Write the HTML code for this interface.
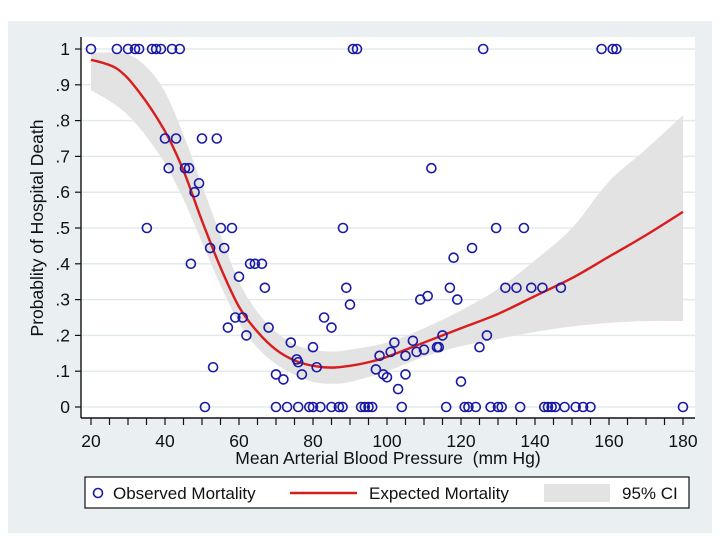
<!DOCTYPE html>
<html><head><meta charset="utf-8"><style>
body{margin:0;background:#fff;width:720px;height:540px;overflow:hidden}
svg{display:block;font-family:"Liberation Sans",sans-serif}
</style></head><body>
<svg id="chart" width="720" height="540">
<rect x="8" y="21" width="704" height="512" fill="#eaf0f2"/>
<rect x="81" y="37" width="614" height="381" fill="#fff"/>
<g id="grid"></g><g id="ci"></g><g id="line"></g><g id="pts"></g><g id="axes"></g>
<text x="388" y="464" font-size="17.5" text-anchor="middle" fill="#111" xml:space="preserve">Mean Arterial Blood Pressure&#160; (mm Hg)</text>
<text transform="translate(43,228) rotate(-90)" font-size="17.5" text-anchor="middle" fill="#111">Probablity of Hospital Death</text>
<g>
<rect x="85" y="477" width="604" height="31" fill="#fff" stroke="#111" stroke-width="1.2"/>
<circle cx="98" cy="493" r="4.5" fill="none" stroke="#1a1aa6" stroke-width="1.6"/>
<text x="113" y="499" font-size="17" fill="#111">Observed Mortality</text>
<line x1="290" y1="493" x2="357" y2="493" stroke="#d91c1c" stroke-width="2.4"/>
<text x="369" y="499" font-size="17" fill="#111">Expected Mortality</text>
<rect x="544" y="484" width="66" height="18" fill="#e3e3e3"/>
<text x="622" y="499" font-size="17" fill="#111">95% CI</text>
</g>
</svg>
<script>
const ptX=[20,27,30,31.9,33,36.5,37.6,38.9,41.9,44,90.8,91.9,126,158,161,162,
40,43,50,54,41,45.4,46.5,112,49.2,48,35.1,55.1,58.1,88.1,129.5,137,52.2,56,123,47,63,64.3,66.2,118,60,
67,89,117,132,135,139,142,147,109,111,119,90,59,61,83,57,68,85,62,115,127,74,102,107,80,113.5,125,
98,101,105,108,110,114,75.6,76,53,81,97,70,77,99,100,105,72,103,120,
50.8,70,73,76,79,80,82,85,87,88,93,94,95,96,104,116,121,122,124,128,130,131,136,142.5,143.5,144.5,145.5,148,151,153,155,180];
const ptY=[1,1,1,1,1,1,1,1,1,1,1,1,1,1,1,1,
.75,.75,.75,.75,.667,.667,.667,.667,.625,.6,.5,.5,.5,.5,.5,.5,.444,.444,.444,.4,.4,.4,.4,.417,.364,
.333,.333,.333,.333,.333,.333,.333,.333,.3,.31,.3,.286,.25,.25,.25,.222,.222,.222,.2,.2,.2,.18,.18,.185,.167,.167,.167,
.143,.154,.143,.154,.16,.167,.133,.125,.111,.111,.105,.091,.091,.091,.083,.091,.077,.05,.071,
0,0,0,0,0,0,0,0,0,0,0,0,0,0,0,0,0,0,0,0,0,0,0,0,0,0,0,0,0,0,0,0];
const fitX=[20,27,33,40,45,50,55,60,65,70,75,80,85,90,95,100,110,120,130,140,150,160,170,180];
const fitY=[.97,.945,.88,.77,.66,.52,.39,.28,.21,.16,.13,.115,.11,.115,.125,.14,.18,.22,.26,.31,.36,.42,.48,.545];
const ciX=[20,25,30,35,40,45,50,55,60,65,70,75,80,85,90,100,110,120,130,140,150,160,170,180];
const ciLo=[.885,.855,.815,.755,.68,.58,.46,.34,.235,.165,.12,.09,.07,.065,.07,.1,.14,.17,.19,.21,.225,.235,.24,.24];
const ciHi=[.99,.99,.985,.95,.88,.76,.62,.48,.35,.265,.21,.175,.16,.155,.16,.18,.22,.27,.33,.41,.5,.63,.72,.815];
const yTicks=[0,.1,.2,.3,.4,.5,.6,.7,.8,.9,1];
const yLabels=["0",".1",".2",".3",".4",".5",".6",".7",".8",".9","1"];
const xLabels=[20,40,60,80,100,120,140,160,180];
const NS="http://www.w3.org/2000/svg";
const sx=v=>91+(v-20)*3.7, sy=v=>407-v*358;
function mk(t,a,p){const e=document.createElementNS(NS,t);for(const k in a)e.setAttribute(k,a[k]);document.getElementById(p).appendChild(e);return e;}
function smooth(P,start){let d=start?'M'+P[0][0]+','+P[0][1]:'L'+P[0][0]+','+P[0][1];
 for(let i=0;i<P.length-1;i++){const p0=P[Math.max(i-1,0)],p1=P[i],p2=P[i+1],p3=P[Math.min(i+2,P.length-1)];
  d+='C'+(p1[0]+(p2[0]-p0[0])/6)+','+(p1[1]+(p2[1]-p0[1])/6)+' '+(p2[0]-(p3[0]-p1[0])/6)+','+(p2[1]-(p3[1]-p1[1])/6)+' '+p2[0]+','+p2[1];}
 return d;}
yTicks.forEach((v,i)=>{
 const g=mk('line',{x1:82,x2:695,y1:sy(v),y2:sy(v),stroke:'#e3eaee','stroke-width':1.5},'grid');
 
 
 const t=mk('line',{x1:75,x2:81,y1:sy(v),y2:sy(v),stroke:'#111','stroke-width':1.2},'axes');
 
 
 const l=mk('text',{x:70,y:sy(v)+6,'font-size':17.5,'text-anchor':'end',fill:'#111'},'axes');
 l.textContent=yLabels[i];
 
 
});
for(let v=20;v<=180;v+=5){
 const t=mk('line',{x1:sx(v),x2:sx(v),y1:418,y2:425,stroke:'#111','stroke-width':1.2},'axes');
 
 
}
xLabels.forEach(v=>{
 const l=mk('text',{x:sx(v),y:447,'font-size':17.5,'text-anchor':'middle',fill:'#111'},'axes');
 l.textContent=v;
 
 
});
const ya=mk('line',{x1:81,x2:81,y1:37,y2:418,stroke:'#111','stroke-width':1.4},'axes');


const xa=mk('line',{x1:81,x2:695,y1:418,y2:418,stroke:'#111','stroke-width':1.4},'axes');


const hi=ciX.map((x,i)=>[sx(x),sy(ciHi[i])]);
const lo=ciX.map((x,i)=>[sx(x),sy(ciLo[i])]).reverse();
const ci=mk('path',{d:smooth(hi,true)+smooth(lo,false)+'Z',fill:'#e3e3e3'},'ci');


const fl=mk('path',{d:smooth(fitX.map((x,i)=>[sx(x),sy(fitY[i])]),true),fill:'none',stroke:'#d91c1c','stroke-width':2.4,'stroke-linejoin':'round'},'line');


ptX.forEach((x,i)=>{
 const c=mk('circle',{cx:sx(x),cy:sy(ptY[i]),r:4.5,fill:'none',stroke:'#1a1aa6','stroke-width':1.6},'pts');
 
 
});
</script>
</body></html>
